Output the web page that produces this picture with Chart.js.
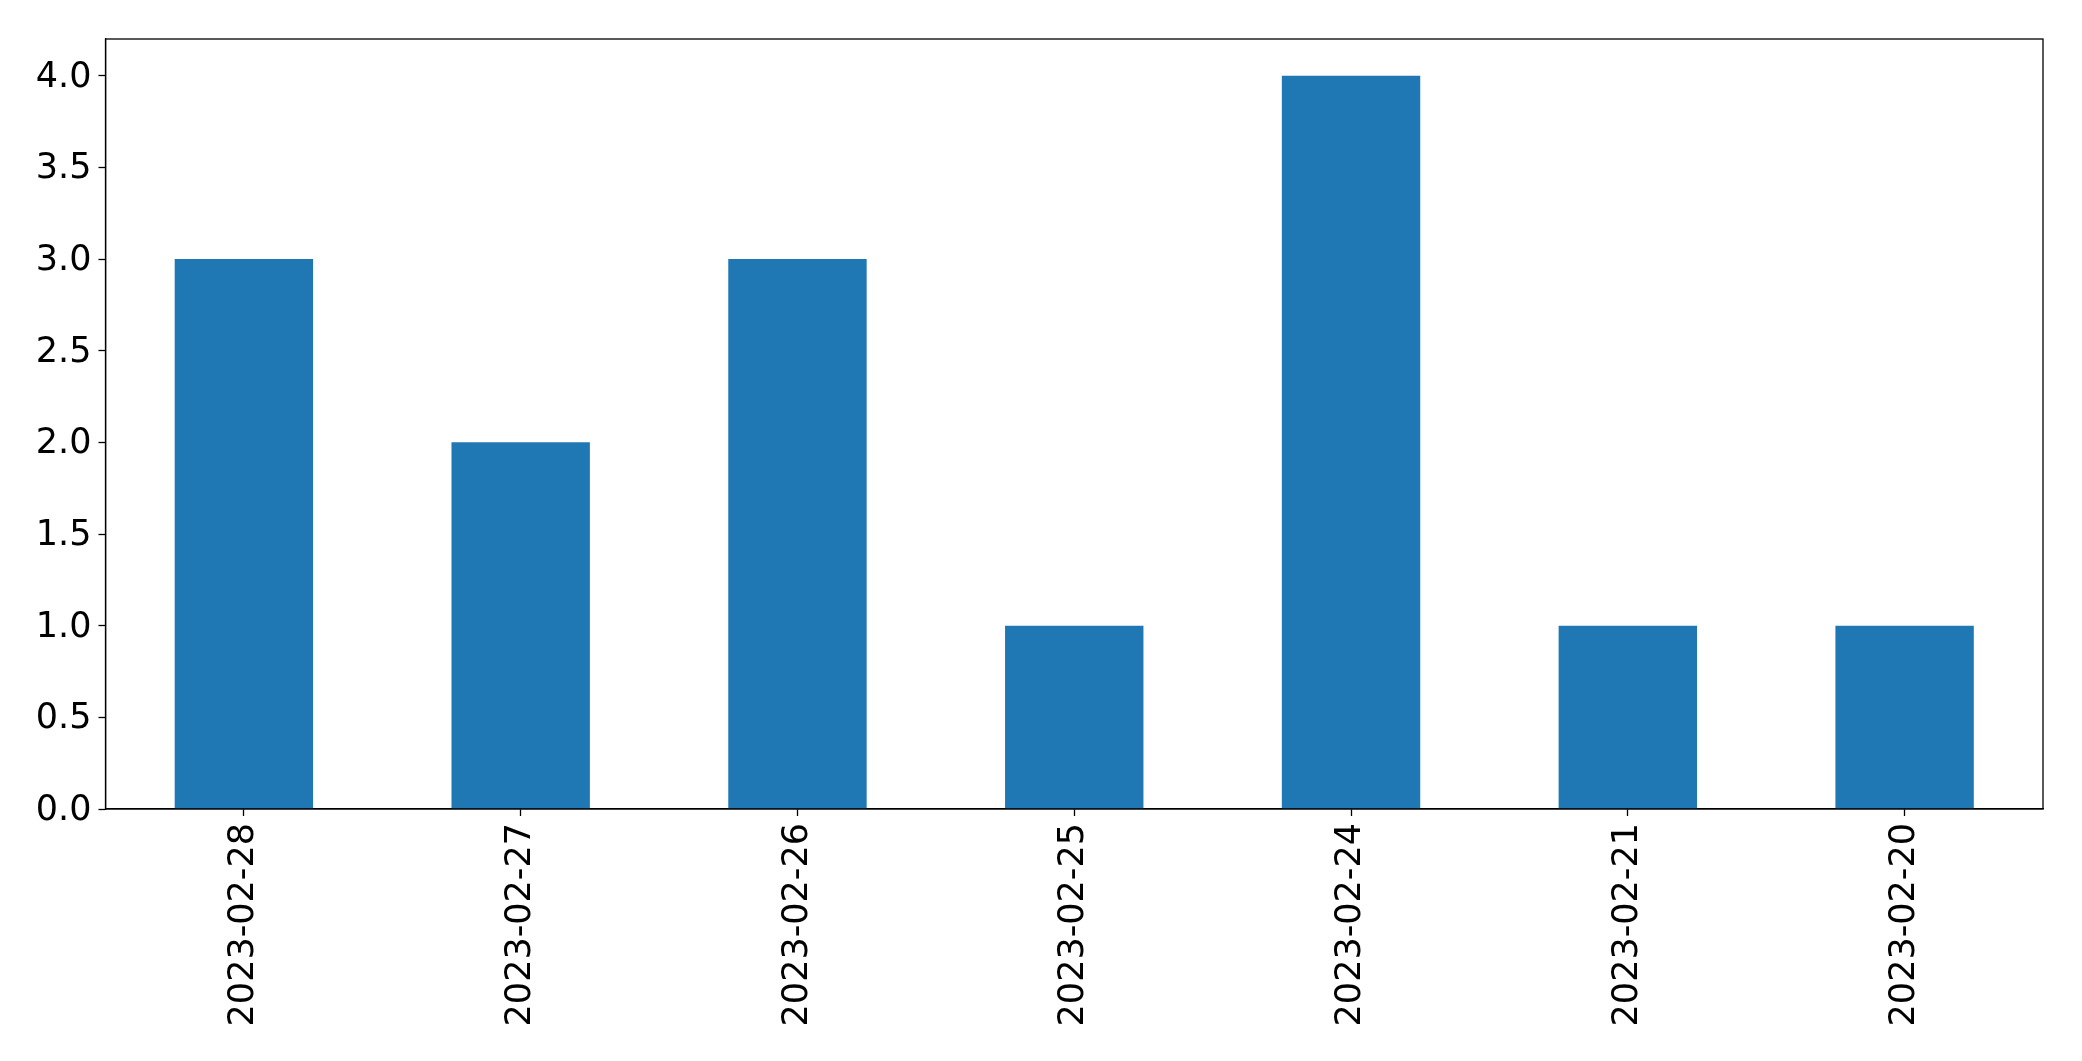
<!DOCTYPE html>
<html>
<head>
<meta charset="utf-8">
<script src="https://cdn.jsdelivr.net/npm/chart.js@4"></script>
<style>
	html, body { margin: 0; padding: 0; background: #fff; }
	#wrap { width: 2082px; height: 1061px; }
</style>
</head>
<body>
<div id="wrap"><canvas id="chart" width="2082" height="1061"></canvas></div>
<script>
const dates = ["2023-02-28", "2023-02-27", "2023-02-26", "2023-02-25", "2023-02-24", "2023-02-21", "2023-02-20"];
const counts = [3, 2, 3, 1, 4, 1, 1];
const yTicks = [0, 0.5, 1, 1.5, 2, 2.5, 3, 3.5, 4];

window.onload = () => {
	const frame = {
		id: "frame",
		afterDraw(chart) {
			const { ctx, chartArea: a } = chart;
			ctx.save();
			ctx.strokeStyle = "#000";
			ctx.lineWidth = 1.3;
			ctx.strokeRect(a.left, a.top, a.right - a.left, a.bottom - a.top);
			ctx.restore();
		},
	};

	const font = { family: "'DejaVu Sans'", size: 35 };

	new Chart(document.getElementById("chart").getContext("2d"), {
		type: "bar",
		data: {
			labels: dates,
			datasets: [
				{
					data: counts,
					backgroundColor: "#1f77b4",
					categoryPercentage: 1,
					barPercentage: 0.5,
				},
			],
		},
		options: {
			responsive: false,
			animation: false,
			layout: { padding: { top: 39, right: 39, left: 0, bottom: 0 } },
			plugins: { legend: { display: false }, tooltip: { enabled: false } },
			scales: {
				x: {
					grid: { display: true, offset: false, drawOnChartArea: false, tickLength: 7, tickColor: "#000", tickWidth: 1.3 },
					border: { display: true, color: "#000", width: 1.3 },
					ticks: { color: "#000", font, maxRotation: 90, minRotation: 90, padding: 7 },
					afterFit(axis) { axis.height = 252; },
				},
				y: {
					min: 0,
					max: 4.2,
					afterBuildTicks(axis) { axis.ticks = yTicks.map((v) => ({ value: v })); },
					grid: { display: true, drawOnChartArea: false, tickLength: 7, tickColor: "#000", tickWidth: 1.3 },
					border: { display: true, color: "#000", width: 1.3 },
					ticks: { color: "#000", font, padding: 7, labelOffset: 2, callback: (v) => Number(v).toFixed(1) },
					afterFit(axis) { axis.width = 105.5; },
				},
			},
		},
		plugins: [frame],
	});
};
</script>
</body>
</html>
